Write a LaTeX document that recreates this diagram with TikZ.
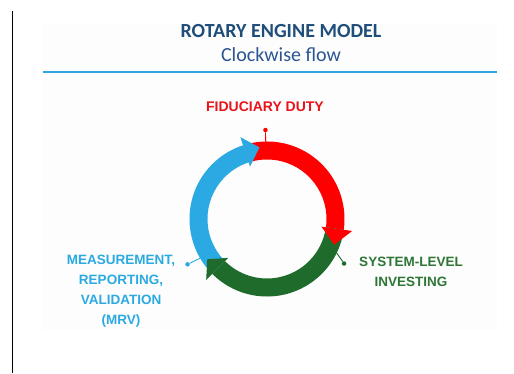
\documentclass[tikz,border=0pt]{standalone}
\usepackage{fontspec}
\setmainfont{Liberation Sans}
\newfontfamily\titlefont{Carlito}
\definecolor{titleblue}{HTML}{1F4E79}
\definecolor{subblue}{HTML}{2A5590}
\definecolor{ruleblue}{HTML}{29A9E0}
\definecolor{ringred}{HTML}{FF0000}
\definecolor{ringgreen}{HTML}{1E6B2C}
\definecolor{ringblue}{HTML}{2AA9E2}
\definecolor{textred}{HTML}{E8141B}
\definecolor{textgreen}{HTML}{2E7636}
\definecolor{textblue}{HTML}{2BAAE2}
% 圆环半径
\newcommand{\Ro}{77.5}
\newcommand{\Ri}{59.5}
\newcommand{\Rho}{86}
\newcommand{\Rhi}{55}
\newcommand{\Rtip}{72}
% 圆环带 {颜色}{起始角}{终止角}
\newcommand{\ringband}[3]{\fill[#1] (#2:\Ro) arc[start angle=#2, end angle=#3, radius=\Ro] -- (#3:\Ri) arc[start angle=#3, end angle=#2, radius=\Ri] -- cycle;}
% 箭头 {颜色}{底角}{尖角}
\newcommand{\ringhead}[3]{\fill[#1] (#2:\Rho) -- (#3:\Rtip) -- (#2:\Rhi) -- cycle;}
\tikzset{
    dot/.style={circle, inner sep=0pt, minimum size=4.5pt},
    label/.style={font=\fontsize{13.5}{20}\selectfont\bfseries, align=center, inner sep=0pt}
}
\begin{document}
\begin{tikzpicture}[x=1pt, y=1pt]
    \useasboundingbox (0, 0) rectangle (514, 373);
    % 左侧竖线与背景
    \draw[line width=1pt] (12, 0) -- (12, 362);
    \fill[black!0.7] (43, 43) rectangle (497, 350);
    % 标题
    \node[font=\titlefont\fontsize{20}{24}\selectfont\bfseries, text=titleblue, inner sep=0pt] (title) at (281, 342) {ROTARY ENGINE MODEL};
    \node[font=\titlefont\fontsize{20}{24}\selectfont, text=subblue, inner sep=0pt] (subtitle) at (281, 318) {Clockwise flow};
    \draw[ruleblue, line width=2pt] (43, 300.5) -- (497, 300.5);
    % 圆环
    \begin{scope}[shift={(267, 154)}]
        \ringband{ringred}{108}{-8}
        \ringband{ringgreen}{-8}{-135}
        \ringband{ringblue}{225}{108}
        \ringhead{ringred}{-8}{-21}
        \ringhead{ringgreen}{225}{214}
        \ringhead{ringblue}{108}{96}
        % 引线
        \coordinate (fidRing) at (91:\Ro);
        \coordinate (sysRing) at (-26:\Ro);
        \coordinate (mrvRing) at (210.4:\Ro);
        \node[dot, fill=ringred] (fidDot) at (91:89) {};
        \node[dot, fill=ringgreen] (sysDot) at (-30:89) {};
        \node[dot, fill=ringblue] (mrvDot) at (209.7:91.5) {};
        \draw[ringred, line width=0.9pt] (fidDot) -- (fidRing);
        \draw[ringgreen, line width=0.9pt] (sysDot) -- (sysRing);
        \draw[ringblue, line width=0.9pt] (mrvDot) -- (mrvRing);
    \end{scope}
    % 文字
    \node[label, font=\fontsize{14}{20}\selectfont\bfseries, text=textred] (fid) at (265, 266) {FIDUCIARY DUTY};
    \node[label, text=textgreen] (sys) at (411, 101.5) {SYSTEM-LEVEL\\INVESTING};
    \node[label, text=textblue] (mrv) at (121, 82) {MEASUREMENT,\\REPORTING,\\VALIDATION\\(MRV)};
\end{tikzpicture}
\end{document}
